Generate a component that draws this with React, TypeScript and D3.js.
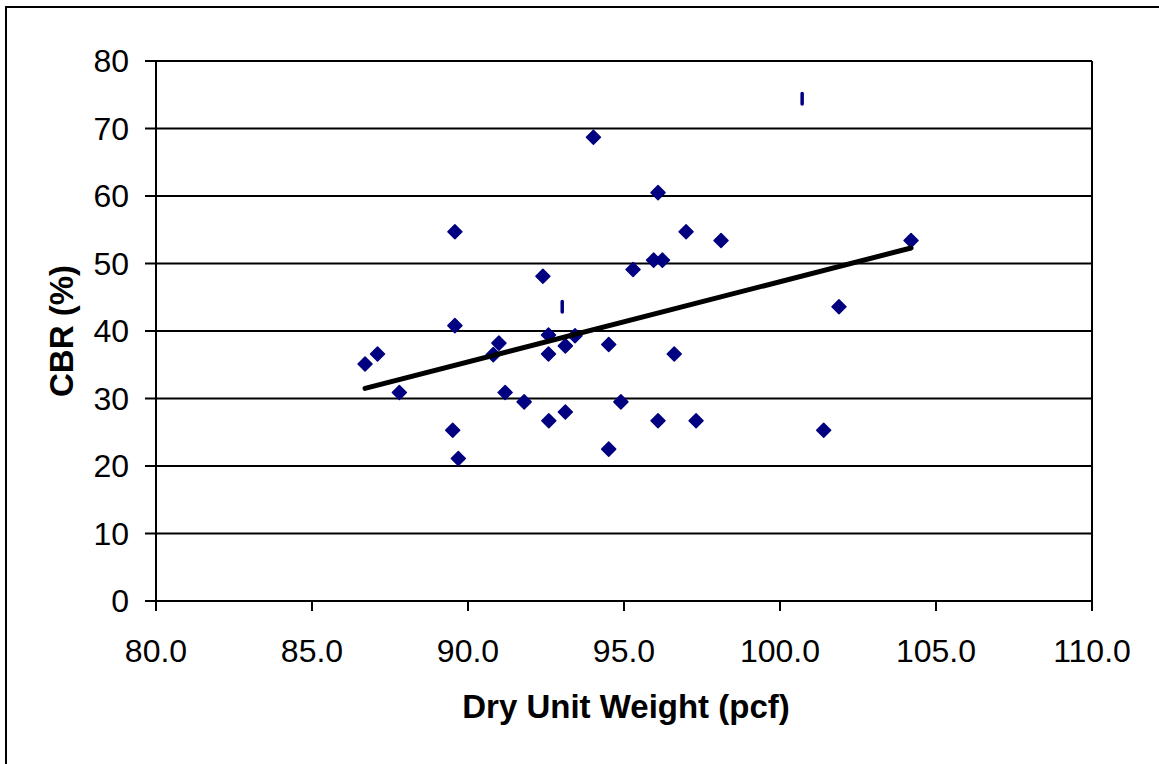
import React from "react";
import * as d3 from "d3";

const xTicks = [80, 85, 90, 95, 100, 105, 110];
const yTicks = [0, 10, 20, 30, 40, 50, 60, 70, 80];

// Dry unit weight (pcf) and CBR (%) — diamond markers
const dryUnitWeight = [
  86.7, 87.1, 87.8, 89.58, 89.58, 89.51, 89.69, 90.81, 90.99, 91.19, 91.8, 92.4,
  92.58, 92.58, 92.59, 93.12, 93.12, 93.43, 94.02, 94.51, 94.51, 94.9, 95.29,
  95.95, 96.23, 96.09, 96.09, 96.61, 96.99, 97.31, 98.11, 101.4, 101.89, 104.2,
];
const cbr = [
  35.1, 36.6, 30.9, 54.7, 40.8, 25.3, 21.1, 36.5, 38.2, 30.9, 29.5, 48.1, 39.4,
  36.6, 26.7, 37.8, 28.0, 39.3, 68.7, 38.0, 22.5, 29.5, 49.1, 50.5, 50.5, 60.5,
  26.7, 36.6, 54.7, 26.7, 53.4, 25.3, 43.6, 53.4,
];

// Points drawn as short vertical dashes in the source
const dashWeight = [93.02, 100.71];
const dashCbr = [43.6, 74.4];

// Linear trend line endpoints
const trendWeight = [86.7, 104.2];
const trendCbr = [31.5, 52.3];

const W = 1159;
const H = 764;
const plot = { left: 156, right: 1092, top: 61, bottom: 601 };

export default function App() {
  const x = d3.scaleLinear().domain([80, 110]).range([plot.left, plot.right]);
  const y = d3.scaleLinear().domain([0, 80]).range([plot.bottom, plot.top]);
  const font = "'Liberation Sans', Arial, Helvetica, sans-serif";
  const navy = "#000080";
  const s = 7;
  const diamond = (cx: number, cy: number) =>
    `M${cx},${cy - s}L${cx + s},${cy}L${cx},${cy + s}L${cx - s},${cy}Z`;
  const trendLine = d3
    .line<number>()
    .x((_, i) => x(trendWeight[i]))
    .y((d) => y(d));

  return (
    <svg
      width={W}
      height={H}
      style={{ position: "absolute", left: 0, top: 0, background: "#fff" }}
      fontFamily={font}
    >
      <rect x={0} y={0} width={W} height={H} fill="#fff" />
      {/* outer frame */}
      <rect x={6} y={7} width={W + 20} height={H + 20} fill="none" stroke="#000" strokeWidth={2} />

      {/* gridlines */}
      {yTicks.map((t) => (
        <line key={"g" + t} x1={plot.left} x2={plot.right} y1={y(t)} y2={y(t)} stroke="#000" strokeWidth={2} />
      ))}
      {/* right border of plot */}
      <line x1={plot.right} x2={plot.right} y1={plot.top} y2={plot.bottom} stroke="#000" strokeWidth={2} />
      {/* y axis */}
      <line x1={plot.left} x2={plot.left} y1={plot.top} y2={plot.bottom} stroke="#000" strokeWidth={2} />
      {yTicks.map((t) => (
        <g key={"yt" + t}>
          <line x1={plot.left - 11} x2={plot.left} y1={y(t)} y2={y(t)} stroke="#000" strokeWidth={2} />
          <text x={129} y={y(t)} textAnchor="end" dominantBaseline="central" fontSize={32} fill="#000">
            {t}
          </text>
        </g>
      ))}
      {/* x axis */}
      {xTicks.map((t) => (
        <g key={"xt" + t}>
          <line x1={x(t)} x2={x(t)} y1={plot.bottom} y2={plot.bottom + 10} stroke="#000" strokeWidth={2} />
          <text x={x(t)} y={662} textAnchor="middle" fontSize={32} fill="#000">
            {t.toFixed(1)}
          </text>
        </g>
      ))}

      {/* points */}
      {dryUnitWeight.map((d, i) => (
        <path key={"p" + i} d={diamond(x(d), y(cbr[i]))} fill={navy} stroke={navy} strokeWidth={1.5} strokeLinejoin="round" />
      ))}
      {dashWeight.map((d, i) => (
        <rect key={"d" + i} x={x(d) - 1.75} y={y(dashCbr[i]) - 7} width={3.5} height={14} rx={1.75} fill={navy} />
      ))}

      {/* trend line */}
      <path d={trendLine(trendCbr) || ""} fill="none" stroke="#000" strokeWidth={5} strokeLinecap="round" />

      {/* axis titles */}
      <text x={(plot.left + plot.right) / 2 + 2} y={718} textAnchor="middle" fontSize={33} fontWeight="bold" fill="#000">
        Dry Unit Weight (pcf)
      </text>
      <text
        transform={`translate(73, ${(plot.top + plot.bottom) / 2}) rotate(-90)`}
        textAnchor="middle"
        fontSize={33}
        fontWeight="bold"
        fill="#000"
      >
        CBR (%)
      </text>
    </svg>
  );
}
